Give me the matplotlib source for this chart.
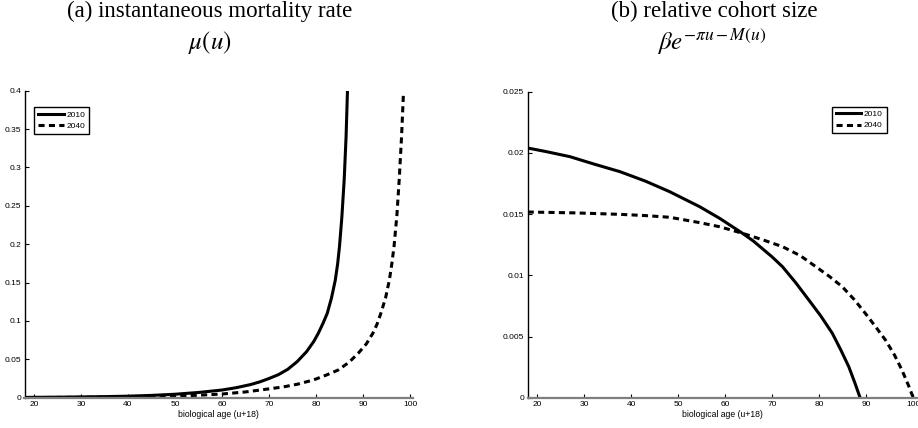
import matplotlib
matplotlib.use('Agg')
import matplotlib.pyplot as plt
from matplotlib.ticker import FuncFormatter

# ages / values
age_mu_2010 = [18, 25, 30, 35, 40, 45, 50, 55, 60, 63, 66, 68, 70, 72, 74, 76, 78, 79.5, 80.5, 81.5,
               82.4, 83.3, 84.1, 84.6, 85.0, 85.5, 86.0, 86.4, 86.7]
mu_2010 = [0.0004, 0.0007, 0.001, 0.0014, 0.002, 0.003, 0.0045, 0.0068, 0.0100, 0.0130, 0.0170, 0.0205,
           0.025, 0.030, 0.037, 0.047, 0.060, 0.073, 0.084, 0.097, 0.110, 0.130, 0.153, 0.174, 0.197,
           0.235, 0.284, 0.34, 0.40]
age_mu_2040 = [18, 25, 30, 35, 40, 45, 50, 55, 60, 65, 70, 73, 76, 79.4, 82, 84.7, 87, 89, 90.7, 92.1,
               93, 93.8, 94.8, 95.6, 96.1, 96.6, 97.2, 97.7, 98.2, 98.6]
mu_2040 = [0.0002, 0.0003, 0.0005, 0.0007, 0.001, 0.0014, 0.002, 0.0032, 0.0048, 0.0075, 0.0115, 0.014,
           0.0175, 0.023, 0.029, 0.036, 0.046, 0.058, 0.070, 0.084, 0.096, 0.110, 0.130, 0.153, 0.173,
           0.197, 0.237, 0.284, 0.34, 0.396]

age_co_2010 = [18, 22, 27, 32, 37.6, 43, 48.2, 52, 54.6, 58.8, 63.7, 66, 70, 72.2, 75, 77.8, 80.3, 82.8,
               84.6, 86.3, 87.6, 88.7]
co_2010 = [0.0204, 0.0201, 0.01969, 0.0191, 0.01847, 0.0177, 0.01683, 0.0161, 0.0156, 0.01466, 0.01343,
           0.0128, 0.0115, 0.0107, 0.0094, 0.00798, 0.0067, 0.00526, 0.0039, 0.00253, 0.0012, 0.0]
age_co_2040 = [18, 28, 37.6, 43, 48.2, 51, 54.6, 58.8, 63.7, 68, 72.2, 76, 79.3, 82.2, 84.9, 87.5, 89.8,
               92, 94.1, 96, 97.6, 99, 100.0]
co_2040 = [0.01517, 0.0151, 0.01498, 0.01488, 0.01474, 0.01455, 0.0143, 0.01397, 0.01343, 0.0129,
           0.01234, 0.0116, 0.0107, 0.0099, 0.00907, 0.0080, 0.0069, 0.0058, 0.00471, 0.0035, 0.00226,
           0.0010, 0.0]

years = ['2010', '2040']
x_ticks = [20, 30, 40, 50, 60, 70, 80, 90, 100]
left_yticks = [0, 0.05, 0.1, 0.15, 0.2, 0.25, 0.3, 0.35, 0.4]
right_yticks = [0, 0.005, 0.01, 0.015, 0.02, 0.025]

plt.rcParams['font.family'] = ['Liberation Sans', 'DejaVu Sans']
plt.rcParams['mathtext.fontset'] = 'stix'

W, H = 918, 428
fig = plt.figure(figsize=(W / 100, H / 100), dpi=100)

lw = 2.2
dash = (2.0, 1.4)


def style_axes(ax, yticks, ylim):
    ax.set_xlim(18, 100.7)
    ax.set_ylim(*ylim)
    ax.spines['top'].set_visible(False)
    ax.spines['right'].set_visible(False)
    ax.spines['left'].set_linewidth(1.0)
    ax.spines['bottom'].set_color('#7f7f7f')
    ax.spines['bottom'].set_linewidth(1.6)
    ax.set_xticks(x_ticks)
    ax.set_yticks(yticks)
    ax.yaxis.set_major_formatter(FuncFormatter(lambda v, p: '%g' % round(v, 4)))
    ax.tick_params(direction='in', length=3, width=0.8, labelsize=6, pad=2.5)
    ax.set_xlabel('biological age (u+18)', fontsize=6.2, labelpad=1.5)


ax1 = fig.add_axes([24.5 / W, 30.3 / H, 388.8 / W, 307 / H])
ax1.plot(age_mu_2010, mu_2010, color='black', lw=lw, label=years[0])
ax1.plot(age_mu_2040, mu_2040, color='black', lw=lw, dashes=dash, label=years[1])
style_axes(ax1, left_yticks, (0, 0.4))
leg1 = ax1.legend(loc='upper left', bbox_to_anchor=(0.025, 0.946), borderaxespad=0, fontsize=6,
                  handlelength=3.1, handletextpad=0.3, borderpad=0.45, labelspacing=0.4,
                  fancybox=False, framealpha=1, edgecolor='black')
leg1.get_frame().set_linewidth(1.0)

ax2 = fig.add_axes([527.7 / W, 30.3 / H, 388.8 / W, 306 / H])
ax2.plot(age_co_2010, co_2010, color='black', lw=lw, label=years[0])
ax2.plot(age_co_2040, co_2040, color='black', lw=lw, dashes=dash, label=years[1])
style_axes(ax2, right_yticks, (0, 0.025))
leg2 = ax2.legend(loc='upper right', bbox_to_anchor=(0.923, 0.951), borderaxespad=0, fontsize=6,
                  handlelength=3.1, handletextpad=0.3, borderpad=0.45, labelspacing=0.4,
                  fancybox=False, framealpha=1, edgecolor='black')
leg2.get_frame().set_linewidth(1.0)

# two-line titles above each panel
serif = ['Liberation Serif', 'DejaVu Serif']
fig.text(210 / W, 1 - 11 / H, '(a) instantaneous mortality rate', ha='center', va='center',
         fontsize=16.5, family=serif)
fig.text(210 / W, 1 - 43 / H, r'$\mu(u)$', ha='center', va='center', fontsize=18)
fig.text(714 / W, 1 - 11 / H, '(b) relative cohort size', ha='center', va='center',
         fontsize=16.5, family=serif)
fig.text(712 / W, 1 - 42 / H, r'$\beta e^{-\pi u - M(u)}$', ha='center', va='center', fontsize=18)

fig.savefig('out.png', dpi=100)
plt.close('all')
